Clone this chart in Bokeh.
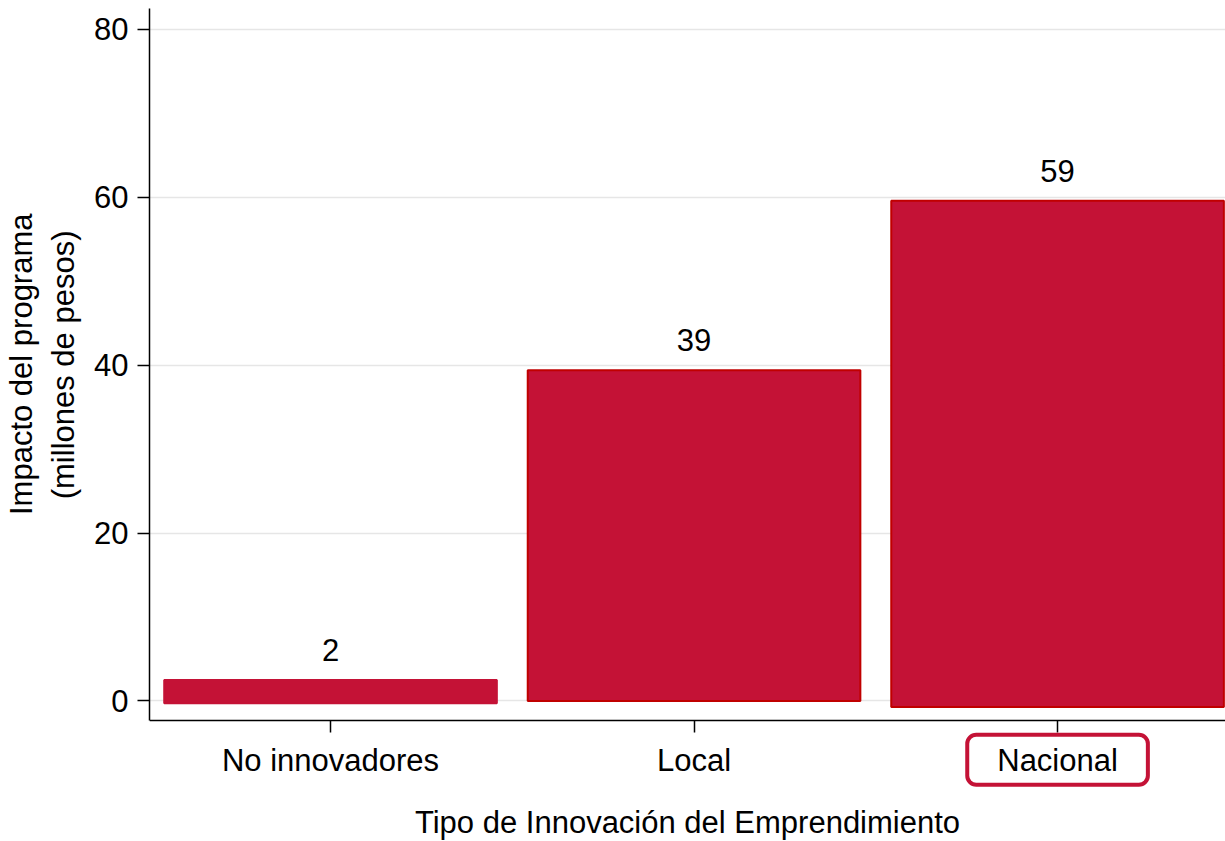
from bokeh.plotting import figure
from bokeh.models import Range1d, FixedTicker, Label, ColumnDataSource, Title
from bokeh.embed import file_html
from bokeh.resources import INLINE
from bokeh.core.properties import value

categories = ["No innovadores", "Local", "Nacional"]
bar_tops = [2.5, 39.4, 59.6]
bar_bottoms = [-0.27, 0.0, -0.72]
bar_labels = ["2", "39", "59"]
y_ticks = [0, 20, 40, 60, 80]
highlight = "Nacional"
y_title_lines = ["Impacto del programa", "(millones de pesos)"]
x_title = "Tipo de Innovación del Emprendimiento"

FONT = "Liberation Sans"
FS = "31px"
FILL = "#c41236"
EDGE = ["#c41236", "#c00000", "#c00000"]
W = 0.915
Y_AXIS_BOTTOM = -2.38   # where the x axis sits
Y_TOP = 82.5
Y_CANVAS_BOTTOM = -16.74

xs = list(range(len(categories)))
src = ColumnDataSource(dict(
    x=xs,
    left=[i - W / 2 for i in xs],
    right=[i + W / 2 for i in xs],
    top=bar_tops,
    bottom=bar_bottoms,
    lab=bar_labels,
    edge=EDGE,
))

p = figure(width=1225, height=841, output_backend="svg", toolbar_location=None,
           x_range=Range1d(-0.498, 2.462), y_range=Range1d(Y_CANVAS_BOTTOM, Y_TOP),
           min_border_left=149, min_border_right=0, min_border_top=8,
           min_border_bottom=0)
p.outline_line_color = None
p.background_fill_color = "white"
p.border_fill_color = "white"

p.quad(left="left", right="right", top="top", bottom="bottom", source=src,
       fill_color=FILL, line_color="edge", line_width=2)

p.text(x="x", y="top", text="lab", source=src, text_align="center",
       text_baseline="alphabetic", y_offset=-30,
       text_font=value(FONT), text_font_size=FS, text_color="black")

# axes
p.xgrid.visible = False
p.ygrid.grid_line_color = "#e6e6e6"
p.ygrid.grid_line_width = 1.5
p.yaxis.ticker = FixedTicker(ticks=y_ticks)
p.yaxis.bounds = (Y_AXIS_BOTTOM, Y_TOP)
p.xaxis.ticker = FixedTicker(ticks=xs)
p.xaxis.fixed_location = Y_AXIS_BOTTOM
overrides = {i: ("" if c == highlight else c) for i, c in zip(xs, categories)}
p.xaxis.major_label_overrides = overrides

for ax in (p.xaxis[0], p.yaxis[0]):
    ax.axis_line_color = "black"
    ax.axis_line_width = 1.5
    ax.major_tick_line_color = "black"
    ax.major_tick_line_width = 1.5
    ax.major_tick_out = 12
    ax.major_tick_in = 0
    ax.minor_tick_line_color = None
    ax.major_label_text_font = FONT
    ax.major_label_text_font_size = FS
    ax.major_label_text_color = "black"
    ax.axis_label_text_font = FONT
    ax.axis_label_text_font_size = FS
    ax.axis_label_text_font_style = "normal"
    ax.axis_label_text_color = "black"

p.yaxis.major_label_standoff = 9
p.xaxis.major_label_standoff = 10
p.xaxis.axis_label = x_title
p.xaxis.axis_label_standoff = 24


def make_title(text, off, sto):
    kw = dict(text=text, align="right", offset=off,
              text_font=FONT, text_font_size=FS,
              text_font_style="normal", text_color="black")
    try:
        return Title(standoff=sto, **kw)
    except Exception:
        return Title(standoff=0, **kw)


# y-axis title: two centred lines, centred on the axis extent (not the frame)
p.add_layout(make_title(y_title_lines[1], 222, 22), "left")
p.add_layout(make_title(y_title_lines[0], 205, -13), "left")

hi = categories.index(highlight)
p.add_layout(Label(x=xs[hi], y=-7.0, level="overlay",
                   text=highlight, text_align="center", text_baseline="middle",
                   text_font=FONT, text_font_size=FS, text_color="black",
                   background_fill_color="white",
                   border_line_color=FILL, border_line_width=4,
                   border_radius=9,
                   padding=dict(left=30, right=30, top=8, bottom=7)))

open("out.html", "w").write(file_html(p, INLINE))
